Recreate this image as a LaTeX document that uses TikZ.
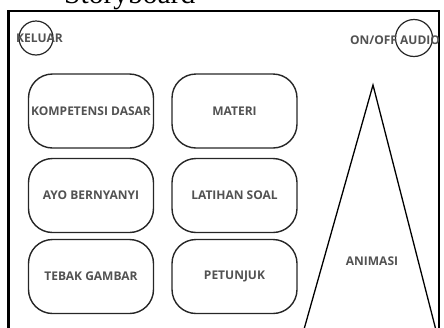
\documentclass[tikz,border=0pt]{standalone}
\usepackage{fontspec}
\setmainfont{Liberation Serif}
\newfontfamily\uifont[BoldFont={Open Sans Bold}]{Open Sans}
\begin{document}
\begin{tikzpicture}[x=1pt,y=-1pt,
  lbl/.style={font=\uifont\bfseries\fontsize{12}{14}\selectfont, text=black!68},
  menubox/.style={draw=black!85, line width=1.4pt, rounded corners=24pt,
    minimum width=125pt, minimum height=74pt, inner sep=0pt, lbl},
  btnring/.style={draw=black!85, line width=1.2pt, circle, inner sep=0pt}]
  \useasboundingbox (0,0) rectangle (444,327);
  \clip (0,0) rectangle (444,327);

  % heading, mostly above the page edge
  \node[anchor=base west, font=\fontsize{29.5}{30}\selectfont, inner sep=0pt] (title) at (64,3) {Storyboard};

  % screen frame
  \draw[line width=2.6pt] (8.5,340) -- (8.5,11) -- (439,11) -- (439,340);

  % top buttons
  \node[btnring, minimum size=34pt] (exitring) at (36,38) {};
  \node[lbl] (exit) at (39.5,38.5) {KELUAR};
  \node[btnring, minimum size=37pt] (audioring) at (414,38) {};
  \node[lbl] (audio) at (395,40) {ON/OFF AUDIO};

  % menu buttons
  \node[menubox] (kd)   at (91,111)    {KOMPETENSI DASAR};
  \node[menubox] (mat)  at (234.5,111) {MATERI};
  \node[menubox] (ayo)  at (91,195.5)  {AYO BERNYANYI};
  \node[menubox] (lat)  at (234.5,195.5) {LATIHAN SOAL};
  \node[menubox] (teb)  at (91,276.5)  {TEBAK GAMBAR};
  \node[menubox] (pet)  at (234.5,276.5) {PETUNJUK};

  % animation area
  \draw[line width=1.3pt, line join=miter] (301,340) -- (373,85) -- (438.5,340);
  \node[lbl] (anim) at (372,261) {ANIMASI};
\end{tikzpicture}
\end{document}
